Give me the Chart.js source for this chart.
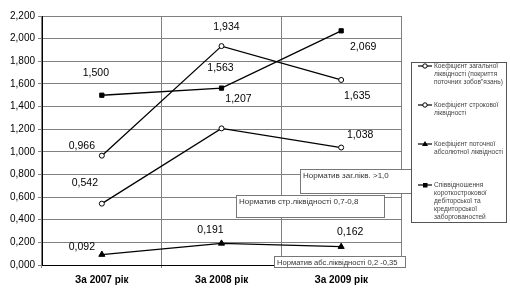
<!DOCTYPE html>
<html>
<head>
<meta charset="utf-8">
<script src="https://cdn.jsdelivr.net/npm/chart.js@4/dist/chart.umd.min.js"></script>
<style>
  html, body { margin: 0; padding: 0; background: #fff; }
  canvas { display: block; }
</style>
</head>
<body>
<canvas id="chart" width="510" height="294"></canvas>
<script>
// categories and series
const years = ["За 2007 рік", "За 2008 рік", "За 2009 рік"];
const generalLiquidity = [0.966, 1.934, 1.635];
const quickLiquidity = [0.542, 1.207, 1.038];
const absoluteLiquidity = [0.092, 0.191, 0.162];
const receivablesPayables = [1.500, 1.563, 2.069];

const legendNames = [
  ["Коефіцієнт загальної", "ліквідності (покриття", "поточних зобов\"язань)"],
  ["Коефіцієнт строкової", "ліквідності"],
  ["Коефіцієнт поточної", "абсолютної ліквідності"],
  ["Співвідношення", "короткострокової", "дебіторської та", "кредиторської", "заборгованостей"]
];
const normNotes = [
  "Норматив заг.лікв. >1,0",
  "Норматив стр.ліквідності 0,7-0,8",
  "Норматив абс.ліквідності 0,2 -0,35"
];

const fmt = (v) => v.toFixed(3).replace(".", ",");
const FONT = "'Liberation Sans', Arial, sans-serif";

// label offsets relative to each point (dx, dy)
const labelOffsets = [
  [[-20, -10], [5, -19], [16, 16]],
  [[-17, -21], [17, -29], [19, -12]],
  [[-20, -7], [-11, -13], [9, -15]],
  [[-6, -22], [-1, -20], [22, 16]]
];

const dataLabels = {
  id: "dataLabels",
  afterDatasetsDraw(chart) {
    const ctx = chart.ctx;
    ctx.save();
    ctx.font = "10.5px " + FONT;
    ctx.fillStyle = "#000";
    ctx.textAlign = "center";
    ctx.textBaseline = "middle";
    chart.data.datasets.forEach((ds, i) => {
      const meta = chart.getDatasetMeta(i);
      meta.data.forEach((pt, j) => {
        const off = labelOffsets[i][j];
        ctx.fillText(fmt(ds.data[j]), pt.x + off[0], pt.y + off[1]);
      });
    });
    ctx.restore();
  }
};

// boxes with normative notes and the legend
const extras = {
  id: "extras",
  afterDraw(chart) {
    const ctx = chart.ctx;
    ctx.save();
    const boxes = [
      { x: 300, y: 169, w: 111, h: 24, size: 8, text: normNotes[0] },
      { x: 236, y: 195, w: 148, h: 22, size: 8, text: normNotes[1] },
      { x: 274, y: 256, w: 131, h: 11, size: 7.6, text: normNotes[2] }
    ];
    ctx.textBaseline = "middle";
    ctx.textAlign = "left";
    boxes.forEach((b) => {
      ctx.fillStyle = "#fff";
      ctx.fillRect(b.x, b.y, b.w, b.h);
      ctx.strokeStyle = "#777";
      ctx.lineWidth = 1;
      ctx.strokeRect(b.x + 0.5, b.y + 0.5, b.w, b.h);
      ctx.fillStyle = "#333";
      ctx.font = b.size + "px " + FONT;
      ctx.fillText(b.text, b.x + 3, b.y + 6.5);
    });

    // legend
    const lx = 411, ly = 62, lw = 95, lh = 160;
    ctx.fillStyle = "#fff";
    ctx.fillRect(lx, ly, lw, lh);
    ctx.strokeStyle = "#555";
    ctx.strokeRect(lx + 0.5, ly + 0.5, lw, lh);
    const itemY = [66, 105, 144, 185];
    ctx.font = "6.6px " + FONT;
    chart.data.datasets.forEach((ds, i) => {
      const y = itemY[i];
      ctx.strokeStyle = "#000";
      ctx.lineWidth = 1.2;
      ctx.beginPath();
      ctx.moveTo(418, y);
      ctx.lineTo(432, y);
      ctx.stroke();
      ctx.fillStyle = ds.pointBackgroundColor;
      ctx.lineWidth = 1;
      ctx.beginPath();
      if (ds.pointStyle === "circle") {
        ctx.arc(425, y, 2.2, 0, Math.PI * 2);
        ctx.fill();
        ctx.stroke();
      } else if (ds.pointStyle === "triangle") {
        ctx.moveTo(425, y - 3);
        ctx.lineTo(428, y + 2);
        ctx.lineTo(422, y + 2);
        ctx.closePath();
        ctx.fill();
      } else {
        ctx.fillStyle = "#000";
        ctx.fillRect(423, y - 2, 4.5, 4.5);
      }
      ctx.fillStyle = "#444";
      legendNames[i].forEach((line, k) => {
        ctx.fillText(line, 434, y + k * 8);
      });
    });
    ctx.restore();
  }
};

function series(label, data, style, fill, radius) {
  return {
    label: label,
    data: data,
    borderColor: "#000",
    borderWidth: 1.3,
    tension: 0,
    fill: false,
    pointStyle: style,
    pointRadius: radius,
    pointBackgroundColor: fill,
    pointBorderColor: "#000",
    pointBorderWidth: 1
  };
}

new Chart(document.getElementById("chart"), {
  type: "line",
  data: {
    labels: years,
    datasets: [
      series(legendNames[0].join(" "), generalLiquidity, "circle", "#fff", 2.5),
      series(legendNames[1].join(" "), quickLiquidity, "circle", "#fff", 2.5),
      series(legendNames[2].join(" "), absoluteLiquidity, "triangle", "#000", 3.5),
      series(legendNames[3].join(" "), receivablesPayables, "rect", "#000", 3)
    ]
  },
  options: {
    responsive: false,
    animation: false,
    layout: { padding: { top: 16, right: 109, bottom: 0, left: 0 } },
    plugins: {
      legend: { display: false },
      tooltip: { enabled: false }
    },
    scales: {
      x: {
        offset: true,
        grid: { offset: true, color: "#808080", tickLength: 3 },
        border: { color: "#000" },
        ticks: {
          color: "#000",
          padding: 6,
          font: { family: FONT, size: 10, weight: "bold" }
        },
        afterFit(scale) { scale.height = 29; }
      },
      y: {
        min: 0,
        max: 2.2,
        grid: { color: "#808080", tickLength: 4 },
        border: { color: "#000" },
        ticks: {
          stepSize: 0.2,
          color: "#000",
          padding: 3,
          font: { family: FONT, size: 10 },
          callback: (v) => fmt(v)
        },
        afterFit(scale) { scale.width = 42; }
      }
    }
  },
  plugins: [dataLabels, extras]
});
</script>
</body>
</html>
